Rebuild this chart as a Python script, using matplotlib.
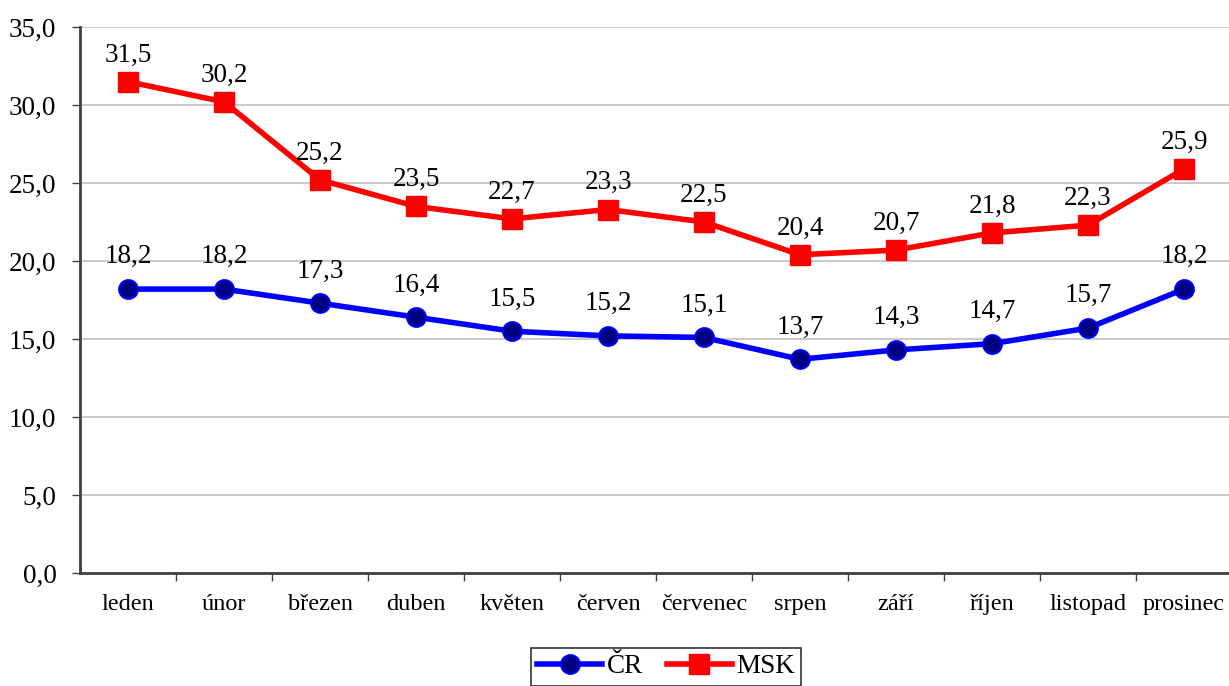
import numpy as np
import matplotlib
matplotlib.use('Agg')
import matplotlib.pyplot as plt
from matplotlib.ticker import MultipleLocator, FuncFormatter

months = ['leden', 'únor', 'březen', 'duben', 'květen', 'červen',
          'červenec', 'srpen', 'září', 'říjen', 'listopad', 'prosinec']
cr = [18.2, 18.2, 17.3, 16.4, 15.5, 15.2, 15.1, 13.7, 14.3, 14.7, 15.7, 18.2]
msk = [31.5, 30.2, 25.2, 23.5, 22.7, 23.3, 22.5, 20.4, 20.7, 21.8, 22.3, 25.9]

plt.rcParams['font.family'] = ['Liberation Serif', 'DejaVu Serif']
plt.rcParams['font.size'] = 19.5

W, H = 1229, 686
fig = plt.figure(figsize=(W / 100, H / 100), dpi=100)
ax = fig.add_axes([80 / W, 1 - 573 / H, 1152 / W, (573 - 27) / H])

x = np.arange(len(months))
ax.plot(x, cr, color='#0000ff', lw=4, marker='o', ms=13.5,
        mfc='#000080', mec='#0000ff', mew=1.5, label='ČR', zorder=3)
ax.plot(x, msk, color='#ff0000', lw=4, marker='s', ms=14,
        mfc='#ff0000', mec='#ff0000', label='MSK', zorder=3)

fmt = lambda v: f'{v:.1f}'.replace('.', ',')
for xi, v in zip(x, cr):
    ax.annotate(fmt(v), (xi, v), xytext=(0, 18.5), textcoords='offset points',
                ha='center', va='baseline', fontsize=19.5)
for xi, v in zip(x, msk):
    ax.annotate(fmt(v), (xi, v), xytext=(0, 14.5), textcoords='offset points',
                ha='center', va='baseline', fontsize=19.5)

ax.set_xlim(-0.5, 11.5)
ax.set_ylim(0, 35)
ax.yaxis.set_major_locator(MultipleLocator(5))
ax.yaxis.set_major_formatter(FuncFormatter(lambda v, p: fmt(v)))
ax.set_xticks(x)
ax.set_xticklabels(months, fontsize=17.5)
ax.set_xticks(np.arange(0.5, 11.5, 1), minor=True)
ax.tick_params(axis='x', which='major', length=0, pad=15)
ax.tick_params(axis='x', which='minor', length=6, width=1, color='#404040', direction='out')
ax.tick_params(axis='y', length=6, width=1, color='#404040', pad=11)

ax.grid(axis='y', color='#c0c0c0', lw=1.2)
ax.set_axisbelow(True)
for s in ['top', 'right']:
    ax.spines[s].set_visible(False)
ax.spines['left'].set_color('#404040')
ax.spines['left'].set_linewidth(2)
ax.spines['bottom'].set_color('#404040')
ax.spines['bottom'].set_linewidth(2)

leg = fig.legend(loc='upper center', bbox_to_anchor=(666 / W, 1 - 634 / H),
                 ncol=2, frameon=True, fancybox=False, edgecolor='black',
                 handlelength=2.4, handletextpad=0.15, columnspacing=0.9,
                 borderpad=0.25, fontsize=19.5)
leg.get_frame().set_linewidth(1.2)

fig.savefig('out.png', dpi=100)
